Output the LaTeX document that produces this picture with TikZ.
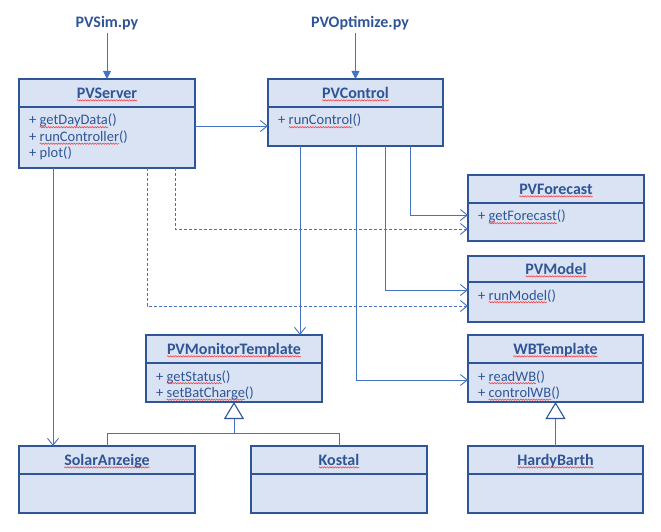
\documentclass[tikz,border=0pt]{standalone}
\usepackage{fontspec}
\setmainfont{Carlito}
\usetikzlibrary{arrows.meta,decorations.pathmorphing}
\definecolor{boxfill}{HTML}{DAE3F3}
\definecolor{boxline}{HTML}{2F5597}
\definecolor{txtblue}{HTML}{2F5597}
\definecolor{connblue}{HTML}{4472C4}
\definecolor{spellred}{HTML}{FF3030}

\newcommand\sq[1]{\tikz[baseline=(sqw.base)]{\node[inner sep=0pt,outer sep=0pt,anchor=base,draw=none,fill=none] (sqw) at (0,0) {#1};\draw[overlay,spellred,line width=0.5bp,decorate,decoration={snake,amplitude=0.7bp,segment length=2.6bp}] ([yshift=-2.2bp]sqw.base west) -- ([yshift=-2.2bp]sqw.base east);}}

\tikzset{
  cbox/.style={draw=boxline,fill=boxfill,line width=1.2bp,inner sep=0pt,outer sep=0pt},
  cdiv/.style={draw=boxline,line width=1.2bp},
  ctitle/.style={anchor=base,inner sep=0pt,text=txtblue,font=\fontsize{16bp}{19bp}\selectfont\bfseries},
  meth/.style={anchor=base west,inner sep=0pt,text=txtblue,font=\fontsize{14.5bp}{17bp}\selectfont},
  script/.style={inner sep=1.5bp,text=txtblue,font=\fontsize{16bp}{19bp}\selectfont\bfseries},
  conn/.style={draw=connblue,line width=0.9bp},
  barb/.style={-{Straight Barb[length=7bp,width=11bp]}},
  filltip/.style={-{Triangle[length=8bp,width=8bp]}},
  dashedconn/.style={conn,dash pattern=on 3bp off 2bp},
  inh/.style={conn,-{Triangle[open,length=17bp,width=20bp,fill=white,color=boxline,line width=1.1bp]}}
}

\newcommand\classbox[7]{%
  \node[cbox,minimum width={(#4-#2)*1bp},minimum height={(#5-#3)*1bp}] (#1) at ({(#2+#4)/2},{(#3+#5)/2}) {};
  \draw[cdiv] (#1.west |- 0,#6) -- (#1.east |- 0,#6);
  \node[ctitle] (#1-t) at ({(#2+#4)/2},{(#3+#6)/2+5.2}) {\sq{#7}};
}

\begin{document}
\begin{tikzpicture}[x=1bp,y=-1bp]
\useasboundingbox (0,0) rectangle (661,532);

% script labels
\node[script] (pvsim) at (107,23) {PVSim.py};
\node[script] (pvopt) at (360,23) {PVOptimize.py};

% classes
\classbox{pvserver}{19}{79}{195}{168}{107}{PVServer}
\node[meth] (pvserver-m1) at (29,125) {+ \sq{getDayData}()};
\node[meth] (pvserver-m2) at (29,141.5) {+ \sq{runController}()};
\node[meth] (pvserver-m3) at (29,158) {+ plot()};

\classbox{pvcontrol}{268}{79}{443}{146}{107}{PVControl}
\node[meth] (pvcontrol-m1) at (278,125) {+ \sq{runControl}()};

\classbox{pvforecast}{468}{175}{644}{241}{203}{PVForecast}
\node[meth] (pvforecast-m1) at (478,221) {+ \sq{getForecast}()};

\classbox{pvmodel}{468}{256}{644}{322}{282}{PVModel}
\node[meth] (pvmodel-m1) at (478,300) {+ \sq{runModel}()};

\classbox{pvmon}{146}{335}{322}{402}{363}{PVMonitorTemplate}
\node[meth] (pvmon-m1) at (156,381) {+ \sq{getStatus}()};
\node[meth] (pvmon-m2) at (156,397.5) {+ \sq{setBatCharge}()};

\classbox{wbt}{468}{335}{643}{402}{363}{WBTemplate}
\node[meth] (wbt-m1) at (478,381) {+ \sq{readWB}()};
\node[meth] (wbt-m2) at (478,397.5) {+ \sq{controlWB}()};

\classbox{solar}{19}{446}{195}{513}{474}{SolarAnzeige}
\classbox{kostal}{251}{446}{427}{513}{474}{Kostal}
\classbox{hardy}{468}{446}{643}{513}{474}{HardyBarth}

% connectors
\draw[conn,filltip,shorten <=1.5bp] (pvsim.south) -- (pvserver.north);
\draw[conn,filltip,shorten <=1.5bp] (pvopt.south -| pvcontrol.north) -- (pvcontrol.north);
\draw[conn,barb] (pvserver.east |- 0,126) -- (pvcontrol.west |- 0,126);

\draw[conn,barb] (pvcontrol.south -| 300,0) -- (pvmon.north -| 300,0);
\draw[conn,barb] (pvcontrol.south -| 410,0) |- (pvforecast.west |- 0,215);
\draw[conn,barb] (pvcontrol.south -| 385,0) |- (pvmodel.west |- 0,290);
\draw[conn,barb] (pvcontrol.south -| 356,0) |- (wbt.west |- 0,380);

\draw[dashedconn,barb] (pvserver.south -| 175,0) |- (pvforecast.west |- 0,229);
\draw[dashedconn,barb] (pvserver.south -| 147,0) |- (pvmodel.west |- 0,306);
\draw[conn,barb] (pvserver.south -| 53,0) -- (solar.north -| 53,0);

% inheritance
\draw[conn] (solar.north) |- (kostal.north |- 0,433) -- (kostal.north);
\draw[inh] (pvmon.south |- 0,433) -- (pvmon.south);
\draw[inh] (hardy.north) -- (wbt.south);
\end{tikzpicture}
\end{document}
